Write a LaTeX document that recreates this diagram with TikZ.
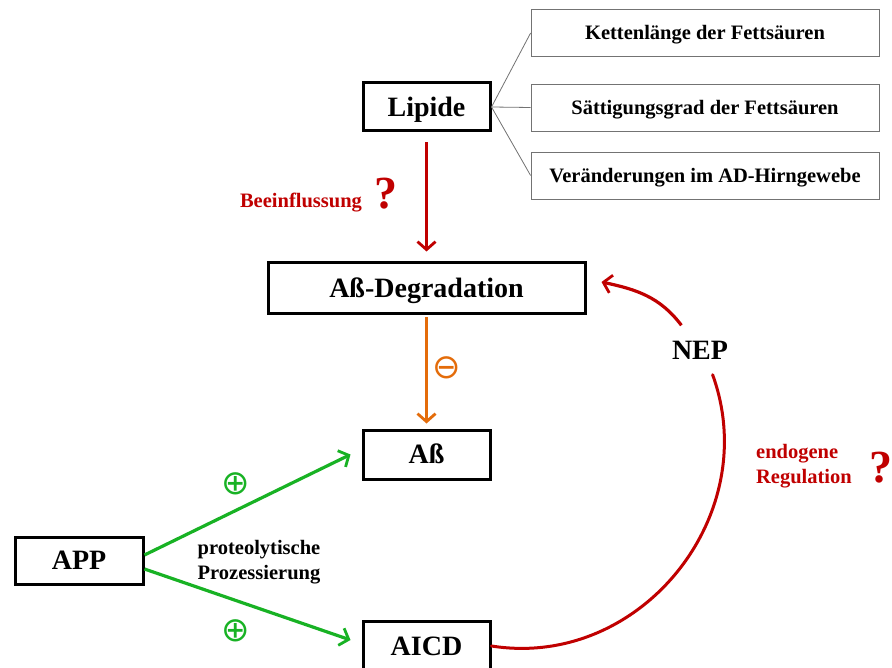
\documentclass[tikz,border=0pt]{standalone}
\usepackage{fontspec}
\setmainfont{Liberation Serif}
\newfontfamily\signfont{DejaVu Sans}
\usetikzlibrary{arrows.meta}

\definecolor{regred}{RGB}{192,0,0}
\definecolor{inhorange}{RGB}{228,108,10}
\definecolor{actgreen}{RGB}{24,178,36}

\begin{document}
\begin{tikzpicture}[x=1pt,y=1pt,
  bigbox/.style={draw=black,line width=3pt,fill=white,inner sep=0pt,
    font=\fontsize{28}{30}\selectfont\bfseries,text height=18.5pt,text depth=0pt},
  infobox/.style={draw=black!55,line width=0.8pt,fill=white,inner sep=0pt,
    minimum width=348pt,minimum height=47pt,
    font=\fontsize{20.5}{22}\selectfont\bfseries,text height=13.5pt,text depth=0pt},
  redlabel/.style={text=regred,font=\fontsize{20.5}{25}\selectfont\bfseries,inner sep=0pt},
  question/.style={text=regred,font=\fontsize{46}{46}\selectfont\bfseries,inner sep=0pt},
  sign/.style={font=\signfont\fontsize{34}{34}\selectfont,inner sep=0pt},
  flow/.style={line width=3.2pt,-{Straight Barb[length=8pt,width=18pt,line width=2.8pt]}},
  curve/.style={line width=3pt,line cap=round},
  twig/.style={draw=black!55,line width=0.8pt},
]
\useasboundingbox[fill=white] (0,0) rectangle (892,-668);

\node[infobox] (kette) at (705,-33) {Kettenlänge der Fettsäuren};
\node[infobox] (saett) at (705,-107.5) {Sättigungsgrad der Fettsäuren};
\node[infobox] (hirn) at (705,-175.5) {Veränderungen im AD-Hirngewebe};

\node[bigbox,minimum width=127pt,minimum height=48pt] (lipide) at (426.5,-107) {Lipide};
\node[bigbox,minimum width=317pt,minimum height=51pt] (degr) at (426.5,-288.5) {Aß-Degradation};
\node[bigbox,minimum width=127pt,minimum height=49pt] (ab) at (426.5,-454.5) {Aß};
\node[bigbox,minimum width=128pt,minimum height=47pt] (app) at (79,-560.5) {APP};
\node[bigbox,minimum width=127pt,minimum height=50pt] (aicd) at (426.5,-646) {AICD};
\node[font=\fontsize{28}{30}\selectfont\bfseries,inner xsep=4pt,inner ysep=0pt,
  text height=18.5pt,text depth=0pt,minimum height=49pt] (nep) at (700,-350) {NEP};

\draw[twig] (lipide.east) -- (kette.west);
\draw[twig] (lipide.east) -- (saett.west);
\draw[twig] (lipide.east) -- (hirn.west);

\draw[flow,regred,shorten <=10pt,shorten >=10pt] (lipide) -- (degr);
\node[redlabel,anchor=base] (beein) at (301,-208) {Beeinflussung};
\node[question] (q1) at (386,-194) {?};

\draw[flow,inhorange,shorten <=2pt,shorten >=5pt] (degr) -- (ab);
\node[sign,text=inhorange] (minus) at (447,-368) {⊖};

\draw[flow,actgreen] ([yshift=5.5pt]app.east) -- ([xshift=-11pt]ab.west);
\draw[flow,actgreen] ([yshift=-8.5pt]app.east) -- ([xshift=-11pt,yshift=6pt]aicd.west);
\node[sign,text=actgreen] (plus1) at (236,-484) {⊕};
\node[sign,text=actgreen] (plus2) at (236,-631) {⊕};
\node[font=\fontsize{20.5}{25}\selectfont\bfseries,align=center,inner sep=0pt]
  (proz) at (259,-562) {proteolytische\\Prozessierung};

\draw[curve,regred,looseness=1.1] (aicd.east) to[out=-9,in=-70] (nep.-63);
\draw[flow,regred] (nep.127) to[out=127,in=-12] ([xshift=15pt,yshift=6.5pt]degr.east);
\node[redlabel,align=left] (regul) at (804,-466) {endogene\\Regulation};
\node[question] (q2) at (881,-468) {?};
\end{tikzpicture}
\end{document}
